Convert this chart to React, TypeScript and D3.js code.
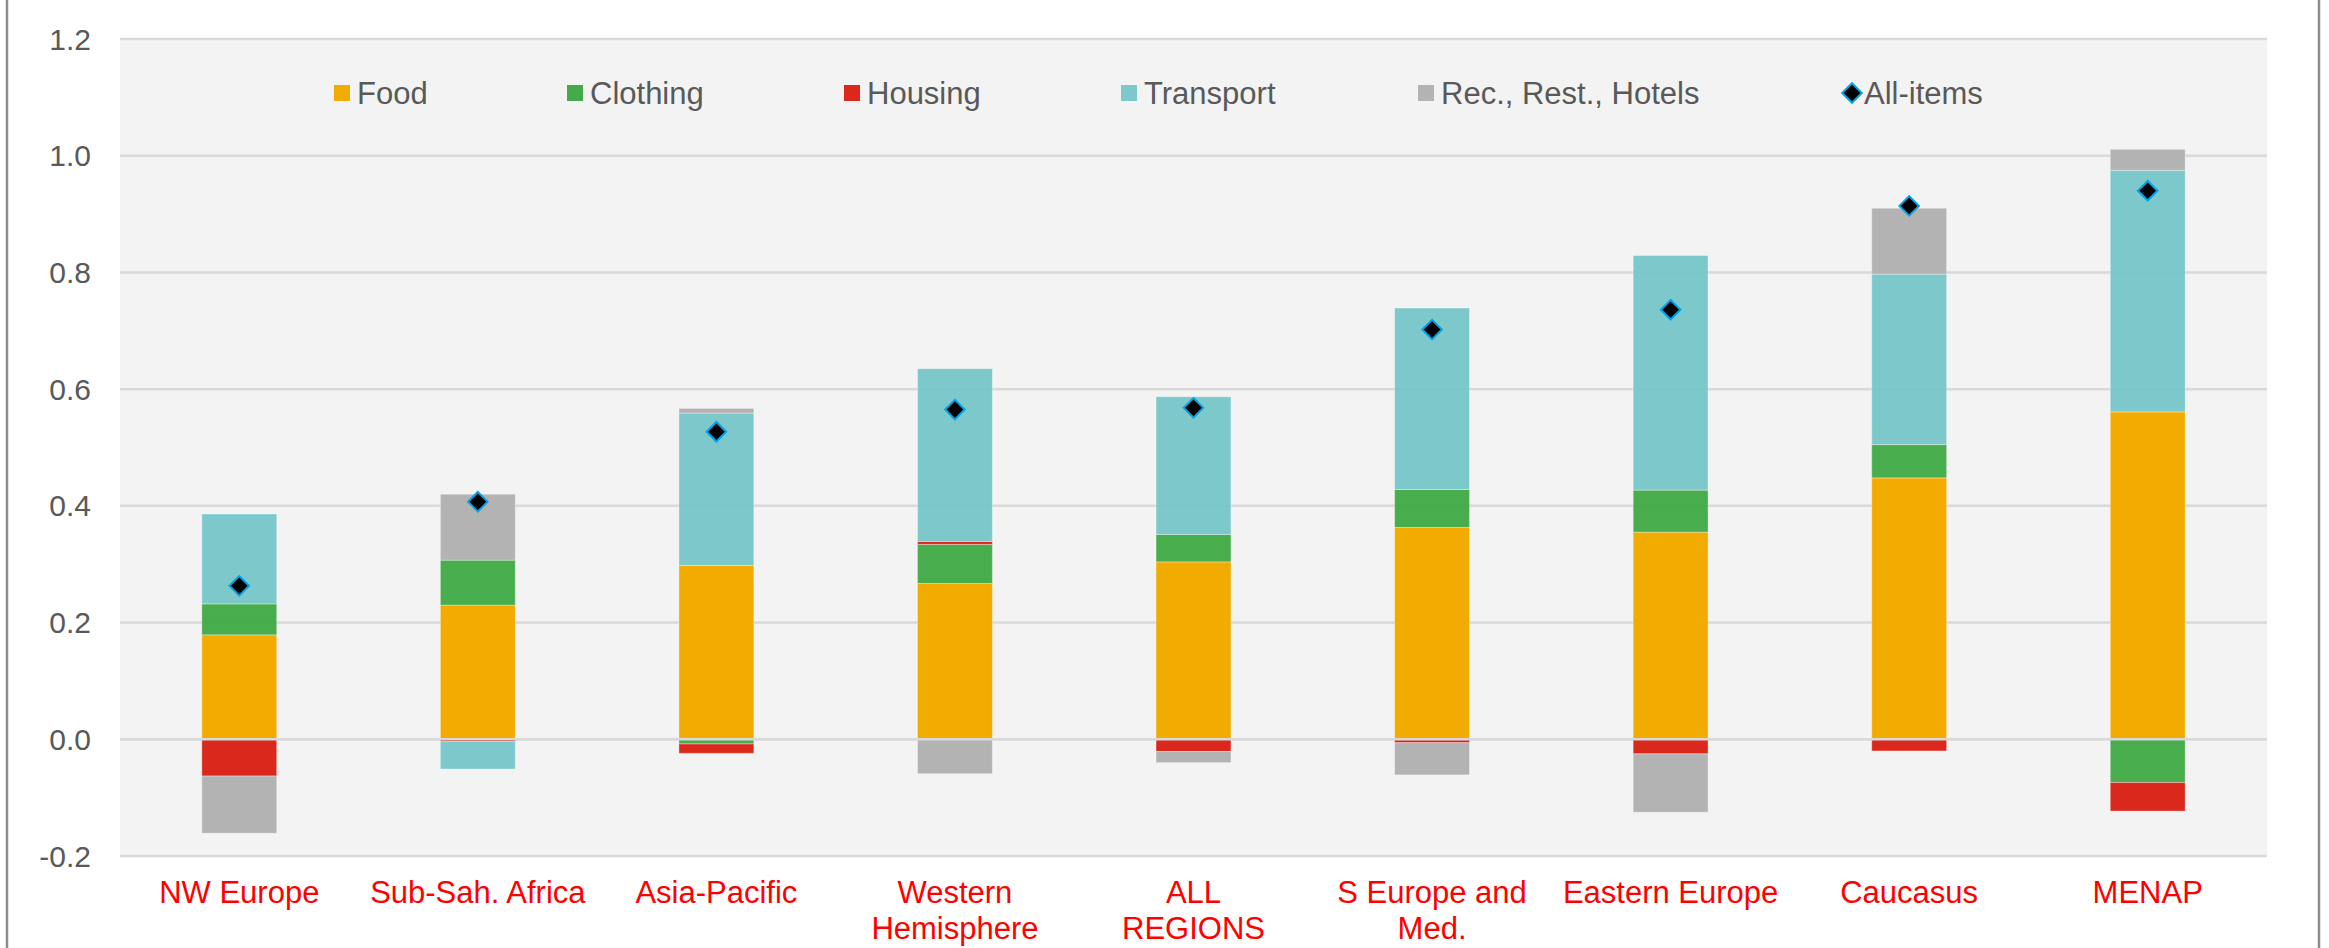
import React from 'react'
import * as d3 from 'd3'

// regions, ordered by all-items contribution
const categories = [
  'NW Europe',
  'Sub-Sah. Africa',
  'Asia-Pacific',
  'Western\nHemisphere',
  'ALL\nREGIONS',
  'S Europe and\nMed.',
  'Eastern Europe',
  'Caucasus',
  'MENAP'
]

const food = [0.179, 0.230, 0.298, 0.267, 0.304, 0.363, 0.355, 0.448, 0.561]
const clothing = [0.053, 0.077, -0.008, 0.067, 0.047, 0.065, 0.072, 0.057, -0.074]
const housing = [-0.063, -0.004, -0.016, 0.005, -0.021, -0.006, -0.025, -0.020, -0.049]
const transport = [0.154, -0.047, 0.261, 0.296, 0.236, 0.311, 0.402, 0.292, 0.414]
const recreation = [-0.098, 0.113, 0.008, -0.059, -0.019, -0.055, -0.100, 0.113, 0.036]
const allItems = [0.263, 0.407, 0.527, 0.565, 0.568, 0.702, 0.736, 0.914, 0.940]

const yTicks = [-0.2, 0, 0.2, 0.4, 0.6, 0.8, 1.0, 1.2]

const seriesKeys = ['Food', 'Clothing', 'Housing', 'Transport', 'Rec., Rest., Hotels']
const seriesColors = ['#f2ab00', '#3aa73f', '#da291c', '#72c4c7', '#b3b3b3']
const seriesOpacity = [1, 0.93, 1, 0.93, 1]
const legendColors = ['#f2ab00', '#43ab47', '#da291c', '#7bc9cc', '#b3b3b3']

const FONT = '"Liberation Sans", Arial, sans-serif'

function App () {
  const width = 2329
  const height = 948
  const plot = { left: 120, right: 2267, top: 39, bottom: 856 }

  const rows = categories.map((c, i) => ({
    cat: c,
    Food: food[i],
    Clothing: clothing[i],
    Housing: housing[i],
    Transport: transport[i],
    'Rec., Rest., Hotels': recreation[i]
  }))

  const stacked = d3.stack<any>()
    .keys(seriesKeys)
    .offset(d3.stackOffsetDiverging)(rows)

  const x = d3.scaleBand<string>()
    .domain(categories)
    .range([plot.left, plot.right])
    .paddingInner(0.686)
    .paddingOuter(0.343)

  const y = d3.scaleLinear().domain([-0.2, 1.2]).range([plot.bottom, plot.top])

  const diamond = d3.symbol().type(d3.symbolSquare).size(190)()

  // legend slots, x of each marker
  const legendX = [334, 567, 844, 1121, 1418]
  const legendY = 93

  return (
    <div style={{ position: 'absolute', left: 0, top: 0 }}>
      <svg width={width} height={height} style={{ display: 'block', background: '#fff' }}>
        <line x1={7} x2={7} y1={0} y2={height} stroke='#8c8c8c' strokeWidth={2.5} />
        <line x1={2319} x2={2319} y1={0} y2={height} stroke='#8c8c8c' strokeWidth={2.5} />

        <rect x={plot.left} y={plot.top} width={plot.right - plot.left} height={plot.bottom - plot.top} fill='#f3f3f3' />

        {yTicks.map(t => (
          <g key={t}>
            <line x1={plot.left} x2={plot.right} y1={y(t)} y2={y(t)} stroke='#d9d9d9' strokeWidth={2.5} />
            <text x={91} y={y(t)} dy='0.35em' textAnchor='end' fontFamily={FONT} fontSize={30} fill='#595959'>
              {t.toFixed(1)}
            </text>
          </g>
        ))}

        {stacked.map((s, si) => (
          <g key={s.key} fill={seriesColors[si]} fillOpacity={seriesOpacity[si]}>
            {s.map((d, i) => {
              const y0 = y(d[0])
              const y1 = y(d[1])
              return (
                <rect
                  key={i}
                  x={x(categories[i])}
                  width={x.bandwidth()}
                  y={Math.min(y0, y1)}
                  height={Math.abs(y0 - y1)}
                  stroke='rgba(255,255,255,0.35)'
                  strokeWidth={1}
                />
              )
            })}
          </g>
        ))}

        <line x1={plot.left} x2={plot.right} y1={y(0)} y2={y(0)} stroke='#d9d9d9' strokeWidth={2.5} />

        {allItems.map((v, i) => (
          <path
            key={i}
            d={diamond}
            transform={`translate(${x(categories[i]) + x.bandwidth() / 2},${y(v)}) rotate(45)`}
            fill='#000'
            stroke='#00a2e8'
            strokeWidth={2}
          />
        ))}

        {categories.map((c, i) => (
          <text
            key={c}
            x={x(c) + x.bandwidth() / 2}
            y={903}
            textAnchor='middle'
            fontFamily={FONT}
            fontSize={31}
            fill='#ff0000'
          >
            {c.split('\n').map((line, li) => (
              <tspan key={li} x={x(c) + x.bandwidth() / 2} dy={li === 0 ? 0 : 36}>{line}</tspan>
            ))}
          </text>
        ))}

        {seriesKeys.map((k, i) => (
          <g key={k}>
            <rect x={legendX[i]} y={legendY - 8} width={16} height={16} fill={legendColors[i]} />
            <text x={legendX[i] + 23} y={legendY} dy='0.35em' fontFamily={FONT} fontSize={31} fill='#595959'>{k}</text>
          </g>
        ))}
        <path d={diamond} transform={`translate(1852,${legendY}) rotate(45)`} fill='#000' stroke='#00a2e8' strokeWidth={2} />
        <text x={1864} y={legendY} dy='0.35em' fontFamily={FONT} fontSize={31} fill='#595959'>All-items</text>
      </svg>
    </div>
  )
}

export default App
